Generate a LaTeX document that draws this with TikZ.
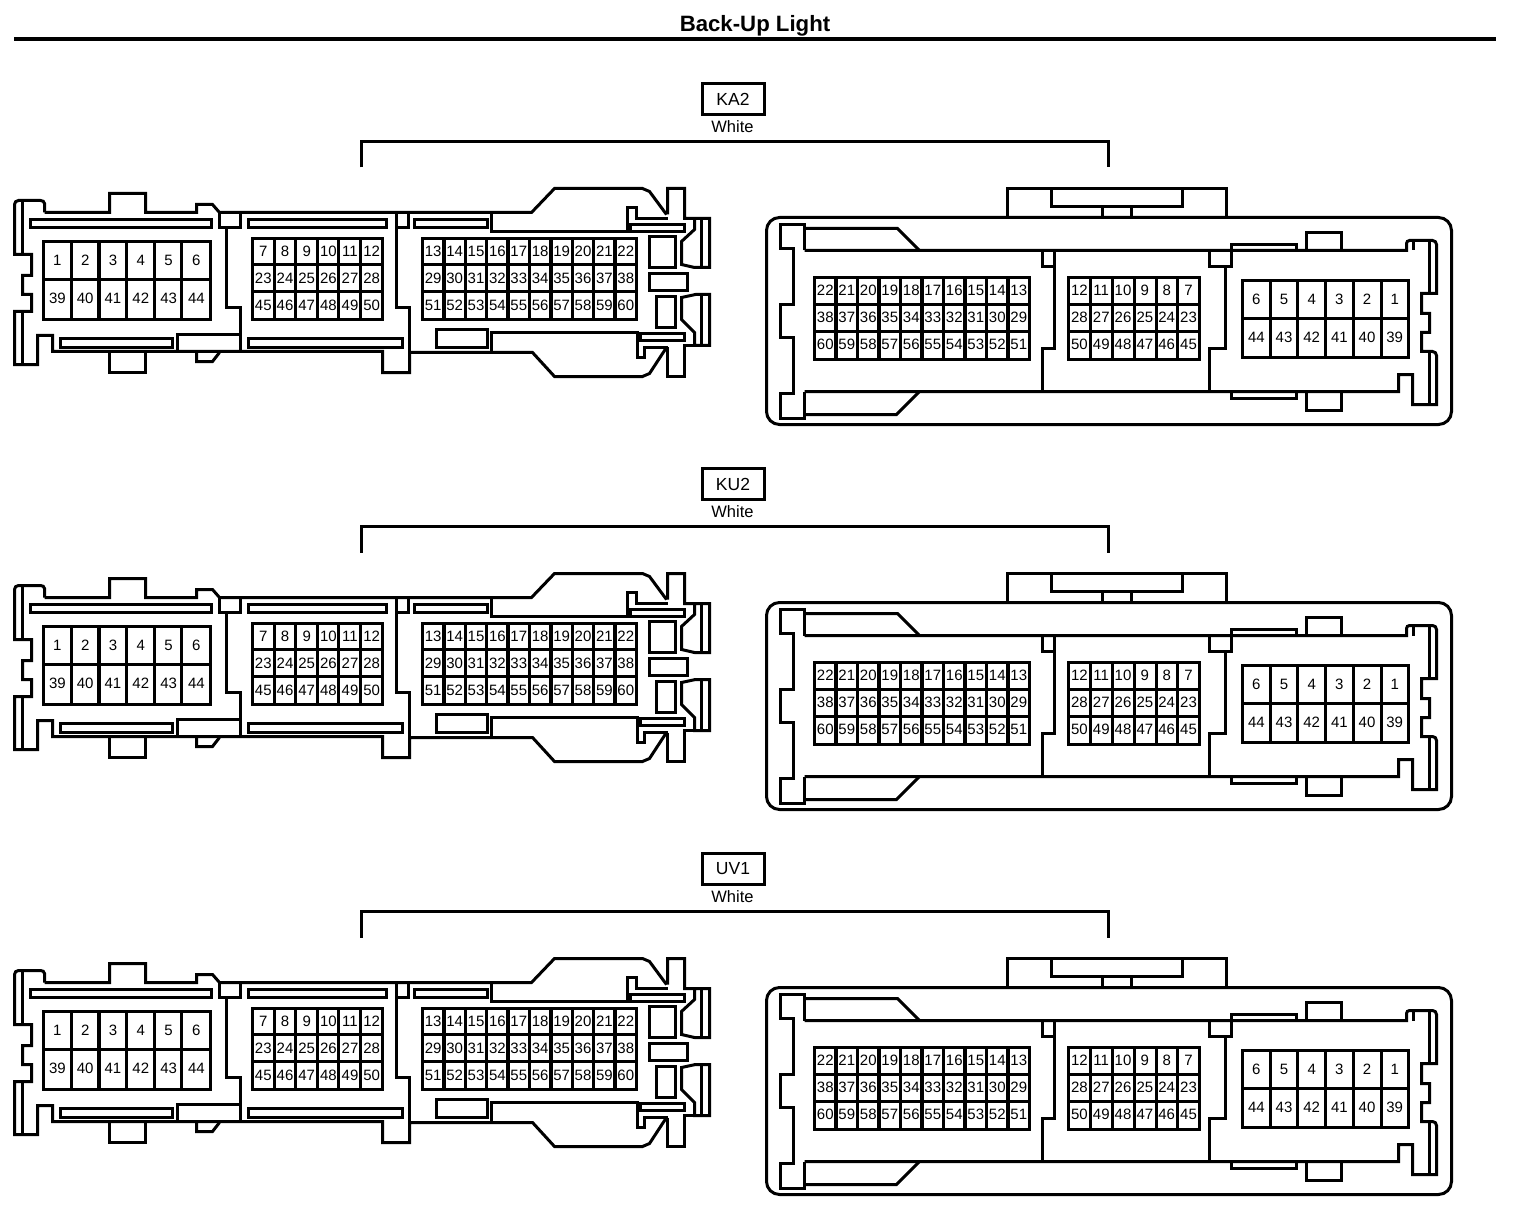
\documentclass[tikz,border=0pt]{standalone}
\usepackage{fontspec}
\setmainfont{Liberation Sans}
\tikzset{
  ol/.style={draw=black,line width=3pt,line join=miter,line cap=butt},
  gridline/.style={draw=black,line width=3.4pt,line join=miter},
  pinlabel/.style={inner sep=0pt,text height=10.8pt,text depth=0pt,font=\fontsize{15}{16}\selectfont},
  tagbox/.style={draw=black,line width=3pt,minimum width=62pt,minimum height=31pt,inner sep=0pt,font=\fontsize{17.5}{19}\selectfont},
  colourlabel/.style={inner sep=0pt,font=\fontsize{16.5}{18}\selectfont},
  bracketline/.style={draw=black,line width=3pt,line join=miter}
}
\newcommand{\pinrow}[4]{\foreach \t [count=\i] in {#4} \node[pinlabel] (p\t) at ({#1+(\i-0.5)*#2},#3) {\t};}
\newcommand{\gridbox}[6]{% x0 y0 x1 y1, vertical lines, horizontal lines
  \draw[gridline] (#1,#2) rectangle (#3,#4);
  \foreach \v in {#5} \draw[gridline] (\v,#2) -- (\v,#4);
  \foreach \h in {#6} \draw[gridline] (#1,\h) -- (#3,\h);}
\newcommand{\leftconn}{%
  % outer outline
  \draw[ol] (45,213) -- (45,204) to[out=90,in=0] (41,201) -- (19,201) to[out=180,in=90] (15,205)
    -- (15,255) -- (32,255) -- (32,276) -- (23,276) -- (23,295) -- (32,295) -- (32,312) -- (15,312)
    -- (15,365) -- (38,365) -- (38,336) -- (53,336) -- (53,352) -- (383,352) -- (383,373) -- (410,373) -- (410,353)
    -- (533,353) -- (555,377) -- (643,377) -- (650,374) -- (667,348);
  \draw[ol] (45,213) -- (110,213) -- (110,194) -- (146,194) -- (146,213) -- (197,213) -- (197,205) -- (213,205) -- (220,213)
    -- (532,213) -- (555,189) -- (643,189) -- (650,192) -- (667,215);
  \draw[ol] (23,201) -- (23,255) (23,312) -- (23,365);
  \draw[ol] (110,352) -- (110,373) -- (146,373) -- (146,352);
  \draw[ol] (197,352) -- (197,362) -- (213,362) -- (220,353);
  % dividers
  \draw[ol] (220,213) -- (220,228) -- (241,228) -- (241,213);
  \draw[ol] (227,228) -- (227,308) -- (241,308) -- (241,352);
  \draw[ol] (178,352) -- (178,335) -- (241,335);
  \draw[ol] (397,213) -- (397,308) -- (410,308) -- (410,353);
  \draw[ol] (397,228) -- (409,228) -- (409,213);
  % slots
  \draw[ol] (31,220) rectangle (212,228);
  \draw[ol] (61,339) rectangle (173,348);
  \draw[ol] (249,220) rectangle (387,228);
  \draw[ol] (249,339) rectangle (403,348);
  \draw[ol] (415,220) rectangle (488,228);
  \draw[ol] (437,330) rectangle (488,348);
  % right end
  \draw[ol] (668,219) -- (637,219) -- (637,208) -- (628,208) -- (628,232) -- (492,232) -- (492,213);
  \draw[ol] (631,225) rectangle (685,232);
  \draw[ol] (668,215) -- (668,189) -- (685,189) -- (685,219) -- (710,219) -- (710,268) -- (695,268) -- (682,265) -- (682,242) -- (695,230) -- (695,220);
  \draw[ol] (702,219) -- (702,268) (702,295) -- (702,346);
  \draw[ol] (710,295) -- (696,295) -- (682,298) -- (682,320) -- (695,333) -- (695,346) -- (710,346) -- cycle;
  \draw[ol] (650,237) rectangle (676,268);
  \draw[ol] (650,274) rectangle (688,291);
  \draw[ol] (657,297) rectangle (676,328);
  \draw[ol] (641,334) rectangle (685,341);
  \draw[ol] (668,348) -- (645,348) -- (645,358) -- (638,358) -- (638,333) -- (492,333) -- (492,353);
  \draw[ol] (668,348) -- (668,377) -- (685,377) -- (685,346) -- (695,346);
  % pins
  \gridbox{44}{242}{211}{320}{72,99.5,127,155,182}{280}
  \gridbox{253}{239}{383}{320}{275,296,318,339,361}{265,292}
  \gridbox{423}{239}{637}{320}{444.4,465.8,487.2,508.6,530,551.4,572.8,594.2,615.6}{265,292}
  \pinrow{44}{27.8}{261}{1,2,3,4,5,6}
  \pinrow{44}{27.8}{299}{39,40,41,42,43,44}
  \pinrow{253}{21.67}{252}{7,8,9,10,11,12}
  \pinrow{253}{21.67}{279}{23,24,25,26,27,28}
  \pinrow{253}{21.67}{306}{45,46,47,48,49,50}
  \pinrow{423}{21.4}{252}{13,14,15,16,17,18,19,20,21,22}
  \pinrow{423}{21.4}{279}{29,30,31,32,33,34,35,36,37,38}
  \pinrow{423}{21.4}{306}{51,52,53,54,55,56,57,58,59,60}
}
\newcommand{\rightconn}{%
  \draw[ol,rounded corners=13pt] (767,218) rectangle (1452,425);
  \draw[ol] (1008,218) -- (1008,189) -- (1227,189) -- (1227,218);
  \draw[ol] (1052,189) -- (1052,207) -- (1183,207) -- (1183,189);
  \draw[ol] (1103,207) -- (1103,218) (1132,207) -- (1132,218);
  % housing
  \draw[ol] (805,251) -- (805,225) -- (781,225) -- (781,249) -- (794,249) -- (794,305) -- (781,305) -- (781,338) -- (794,338) -- (794,394) -- (781,394) -- (781,419) -- (805,419) -- (805,392);
  \draw[ol] (805,229) -- (898,229) -- (920,251);
  \draw[ol] (805,415) -- (897,415) -- (920,392);
  \draw[ol] (805,251) -- (1407,251) -- (1407,244) to[out=90,in=180] (1410,241) -- (1433,241) to[out=0,in=90] (1437,245) -- (1437,294) -- (1422,294) -- (1422,314) -- (1430,314) -- (1430,333) -- (1422,333) -- (1422,352) -- (1433,352) to[out=0,in=90] (1437,356) -- (1437,405) -- (1413,405) -- (1413,375) -- (1399,375) -- (1399,392) -- (805,392);
  \draw[ol] (1414,241) -- (1414,251);
  \draw[ol] (1430,241) -- (1430,294) (1430,352) -- (1430,405);
  % dividers
  \draw[ol] (1043,251) -- (1043,267) -- (1055,267) -- (1055,349) -- (1043,349) -- (1043,392);
  \draw[ol] (1055,251) -- (1055,267);
  \draw[ol] (1210,251) -- (1210,267) -- (1232,267) -- (1232,251);
  \draw[ol] (1226,267) -- (1226,349) -- (1210,349) -- (1210,392);
  \draw[ol] (1232,251) -- (1232,245) -- (1297,245) -- (1297,251);
  \draw[ol] (1232,392) -- (1232,399) -- (1297,399) -- (1297,392);
  \draw[ol] (1307,251) -- (1307,233) -- (1342,233) -- (1342,251);
  \draw[ol] (1307,392) -- (1307,411) -- (1342,411) -- (1342,392);
  % pins
  \gridbox{815}{278}{1030}{360}{836.5,858,879.5,901,922.5,944,965.5,987,1008.5}{305,332}
  \gridbox{1069}{278}{1200}{360}{1091,1113,1135,1157,1178}{305,332}
  \gridbox{1243}{281}{1409}{358}{1271,1298,1326,1354,1382}{319}
  \pinrow{815}{21.5}{291}{22,21,20,19,18,17,16,15,14,13}
  \pinrow{815}{21.5}{318}{38,37,36,35,34,33,32,31,30,29}
  \pinrow{815}{21.5}{345}{60,59,58,57,56,55,54,53,52,51}
  \pinrow{1069}{21.83}{291}{12,11,10,9,8,7}
  \pinrow{1069}{21.83}{318}{28,27,26,25,24,23}
  \pinrow{1069}{21.83}{345}{50,49,48,47,46,45}
  \pinrow{1243}{27.67}{300}{6,5,4,3,2,1}
  \pinrow{1243}{27.67}{338}{44,43,42,41,40,39}
}
\newcommand{\block}[3]{% y shift, name, tag
  \begin{scope}[shift={(0,#1)}]
    \node[tagbox] (#2-tag) at (733.5,99.5) {#3};
    \node[colourlabel] (#2-colour) at (733,127) {White};
    \coordinate (#2-bl) at (362,168);
    \coordinate (#2-br) at (1109,168);
    \coordinate (#2-tl) at (362,142);
    \coordinate (#2-tr) at (1109,142);
    \draw[bracketline] (#2-bl) -- (#2-tl) -- (#2-tr) -- (#2-br);
    \begin{scope}[name prefix=#2-L-]\leftconn\end{scope}
    \begin{scope}[name prefix=#2-R-]\rightconn\end{scope}
  \end{scope}}
\begin{document}
\begin{tikzpicture}[x=1pt,y=-1pt]
  \useasboundingbox (0.5,0.5) rectangle (1520.5,1214.5);
  \fill[white] (0.5,0.5) rectangle (1520.5,1214.5);
  \node[inner sep=0pt,font=\bfseries\fontsize{22.2}{25}\selectfont] (title) at (755.5,26.5) {Back-Up Light};
  \coordinate (ruleL) at (14.5,40);
  \coordinate (ruleR) at (1496.5,40);
  \draw[black,line width=4pt] (ruleL) -- (ruleR);
  \block{0}{ka}{KA2}
  \block{385}{ku}{KU2}
  \block{770}{uv}{UV1}
\end{tikzpicture}
\end{document}
